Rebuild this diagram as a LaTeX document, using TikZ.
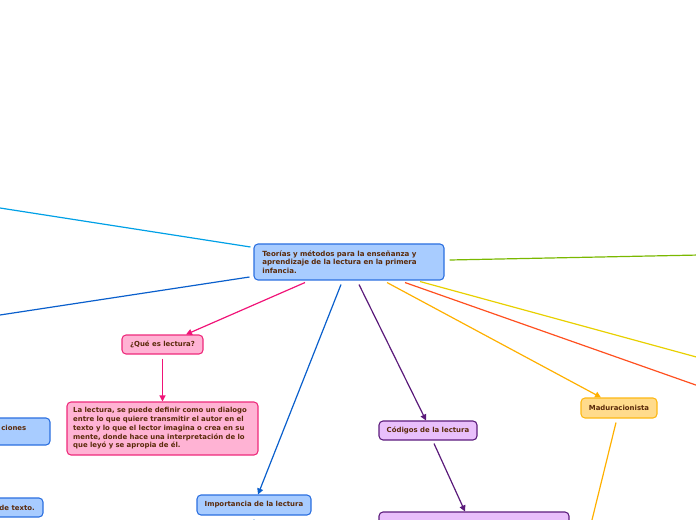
\documentclass[tikz,border=0pt]{standalone}
\usepackage{fontspec}
\setmainfont{DejaVu Sans}
\usetikzlibrary{arrows.meta}
\definecolor{bfill}{HTML}{A8CCFF}
\definecolor{bdraw}{HTML}{2B6FE0}
\definecolor{pfill}{HTML}{FFB3D4}
\definecolor{pdraw}{HTML}{EE2A7B}
\definecolor{vfill}{HTML}{E9BFFB}
\definecolor{vdraw}{HTML}{5C1C7C}
\definecolor{ofill}{HTML}{FFDB8C}
\definecolor{odraw}{HTML}{FDB813}
\definecolor{txt}{HTML}{5A2A0A}
\definecolor{cyanl}{HTML}{00A0E6}
\definecolor{bluel}{HTML}{0A5FCC}
\definecolor{pinkl}{HTML}{F01478}
\definecolor{purpl}{HTML}{5A1A7A}
\definecolor{orl}{HTML}{FFB000}
\definecolor{redl}{HTML}{FF5020}
\definecolor{yell}{HTML}{E8D000}
\definecolor{grnl}{HTML}{7AB800}
\begin{document}
\begin{tikzpicture}[x=0.75pt,y=-0.75pt,
  tfont/.style={font=\fontsize{5.2}{6.6}\selectfont\bfseries,text=txt},
  box/.style={rounded corners=3pt,line width=0.8pt,inner sep=0pt,tfont},
  bluebox/.style={box,fill=bfill,draw=bdraw},
  pinkbox/.style={box,fill=pfill,draw=pdraw},
  purpbox/.style={box,fill=vfill,draw=vdraw},
  orbox/.style={box,fill=ofill,draw=odraw},
  conn/.style={line width=0.9pt},
  arr/.style={conn,-{Triangle[length=4.5pt,width=4.5pt]}}]
\useasboundingbox (0,0) rectangle (696,520);
% nodes
\node[bluebox,minimum width=142.5pt,minimum height=27pt,text width=130pt,align=left,
  font=\fontsize{5.3}{6.4}\selectfont\bfseries] (c) at (349,262)
  {Teorías y métodos para la enseñanza y\\aprendizaje de la lectura en la primera\\infancia.};
\node[pinkbox,minimum width=60.75pt,minimum height=14.25pt] (q) at (162.5,344.5) {¿Qué es lectura?};
\node[pinkbox,minimum width=143.25pt,minimum height=39.75pt,text width=134pt,align=left] (d) at (162.5,428.5)
  {La lectura, se puede definir como un dialogo\\entre lo que quiere transmitir el autor en el\\texto y lo que el lector imagina o crea en su\\mente, donde hace una interpretación de lo\\que leyó y se apropia de él.};
\node[bluebox,minimum width=82.5pt,minimum height=20.25pt] (apl) at (-5,431.5) {};
\node[tfont,anchor=west,inner sep=0pt] (apltxt) at (1,428) {ciones};
\node[bluebox,minimum width=75pt,minimum height=14.25pt] (tex) at (-7,507.5) {};
\node[tfont,anchor=east,inner sep=0pt] (textxt) at (35,508) {de texto.};
\node[bluebox,minimum width=85.5pt,minimum height=15pt] (imp) at (254,505) {Importancia de la lectura};
\node[purpbox,minimum width=73.5pt,minimum height=14.25pt] (cod) at (428,430.5) {Códigos de la lectura};
\node[purpbox,minimum width=142.5pt,minimum height=36pt] (bot) at (474,536) {};
\node[orbox,minimum width=57pt,minimum height=15pt] (mad) at (619,408) {Maduracionista};
% free ends
\coordinate (e1) at (0,208);
\coordinate (e2) at (0,315);
\coordinate (e3) at (700,386.5);
\coordinate (e4) at (700,358);
\coordinate (e5) at (700,255);
\coordinate (e6) at (590,528);
\coordinate (e7) at (253.5,528);
% connectors
\draw[conn,cyanl] ([shift={(-3,-15)}]c.west) -- (e1);
\draw[conn,bluel] ([shift={(-4,15)}]c.west) -- (e2);
\draw[arr,pinkl] ([shift={(-44,2)}]c.south) -- ([shift={(23.5,0)}]q.north);
\draw[arr,pinkl] ([shift={(0,4)}]q.south) -- (d.north);
\draw[arr,bluel] ([shift={(-8,4)}]c.south) -- ([shift={(4,0)}]imp.north);
\draw[arr,purpl] ([shift={(10,4)}]c.south) -- ([shift={(-2,0)}]cod.north);
\draw[arr,purpl] ([shift={(6,3)}]cod.south) -- ([shift={(-9,0)}]bot.north);
\draw[arr,orl] ([shift={(38,2)}]c.south) -- ([shift={(-18,0)}]mad.north);
\draw[conn,redl] ([shift={(56,2)}]c.south) -- (e3);
\draw[conn,yell] ([shift={(71,1)}]c.south) -- (e4);
\draw[conn,grnl] ([shift={(5,-2)}]c.east) -- (e5);
\draw[conn,orl] ([shift={(-3,4)}]mad.south) -- (e6);
\draw[conn,bluel] ([shift={(0,4)}]imp.south) -- (e7);
\end{tikzpicture}
\end{document}
